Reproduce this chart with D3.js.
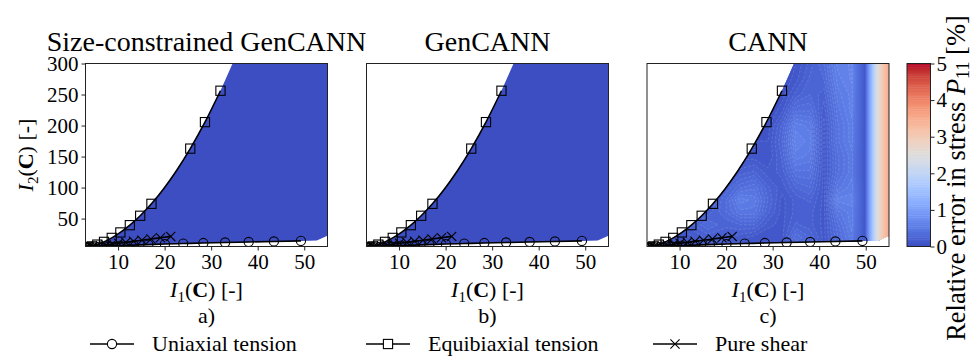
<!DOCTYPE html>
<html><head><meta charset="utf-8">
<script src="https://cdn.jsdelivr.net/npm/d3@7"></script>
<style>
body{margin:0;background:#fff}
svg{display:block}
text{font-family:"Liberation Serif","Times New Roman",serif;fill:#000}
</style>
</head><body>
<svg id="c" width="974" height="356"></svg>
<script>
// ---------- data ----------
const panelTitles = ["Size-constrained GenCANN", "GenCANN", "CANN"];
const panelLetters = ["a)", "b)", "c)"];
const xTicks = [10, 20, 30, 40, 50];
const yTicks = [50, 100, 150, 200, 250, 300];
const cbTicks = [0, 1, 2, 3, 4, 5];
const legendNames = ["Uniaxial tension", "Equibiaxial tension", "Pure shear"];

// uniaxial tension path (I1, I2)
const uniI1 = [3.00, 3.44, 4.53, 6.10, 8.10, 10.51, 13.32, 16.50, 20.07, 24.00, 28.32, 33.00, 38.06, 43.48, 49.29];
const uniI2 = [3.00, 3.35, 4.00, 4.76, 5.57, 6.39, 7.22, 8.06, 8.91, 9.76, 10.61, 11.46, 12.31, 13.17, 14.02];
// equibiaxial tension path (line)
const equiI1 = [3.00, 3.41, 4.32, 5.54, 6.98, 8.64, 10.49, 12.53, 14.75, 17.17, 19.76, 22.54, 25.51, 28.67, 32.00];
const equiI2 = [3.00, 3.53, 5.15, 8.03, 12.47, 18.88, 27.67, 39.38, 54.54, 73.80, 97.78, 127.2, 162.8, 205.5, 256.1];
// equibiaxial markers
const equiMarkI1 = [3.00, 3.41, 4.32, 5.54, 6.98, 8.64, 10.49, 12.53, 14.75, 17.17, 25.51, 28.67, 32.00];
const equiMarkI2 = [3.00, 3.53, 5.15, 8.03, 12.47, 18.88, 27.67, 39.38, 54.54, 73.80, 162.8, 205.5, 256.1];
// pure shear path (I1 = I2)
const psI1 = [3.00, 3.20, 3.69, 4.39, 5.25, 6.26, 7.41, 8.69, 10.11, 11.66, 13.33, 15.13, 17.06, 19.10, 21.30];
const psI2 = [3.00, 3.20, 3.69, 4.39, 5.25, 6.26, 7.41, 8.69, 10.11, 11.66, 13.33, 15.13, 17.06, 19.10, 21.30];

// admissible-domain extra boundary points
const domainTop = [34.6, 300];
const domainRight = [[55.5, 300], [55.5, 24], [52.7, 14.6]];

// error field, panels a and b (uniform, near zero)
const fieldAB = [0.02, 0.02];

// error field, panel c: grid of I1 (columns) x I2 (rows), values in %
const fieldI1 = [3, 8, 12, 16, 20, 23, 26, 29, 32, 35, 38, 41, 44, 47, 49.8, 51, 52.5, 54, 55.5];
const fieldI2 = [0, 20, 40, 60, 80, 100, 125, 150, 175, 200, 225, 250, 275, 300];
const fieldC = [
 [0.10,0.10,0.13,0.17,0.17,0.13,0.10,0.10,0.13,0.26,0.22,0.13,0.30,0.48,0.12,1.20,2.50,3.20,3.70],
 [0.10,0.10,0.13,0.22,0.22,0.17,0.13,0.10,0.13,0.39,0.30,0.13,0.35,0.53,0.12,1.20,2.50,3.20,3.70],
 [0.10,0.13,0.22,0.35,0.26,0.30,0.30,0.17,0.13,0.26,0.22,0.13,0.39,0.58,0.12,1.20,2.50,3.20,3.70],
 [0.10,0.13,0.17,0.22,0.35,0.48,0.48,0.26,0.13,0.22,0.22,0.13,0.48,0.58,0.12,1.20,2.50,3.20,3.70],
 [0.10,0.13,0.13,0.17,0.35,0.58,0.53,0.30,0.13,0.22,0.26,0.13,0.62,0.62,0.12,1.20,2.50,3.20,3.70],
 [0.10,0.13,0.13,0.17,0.26,0.39,0.44,0.26,0.17,0.30,0.35,0.13,0.48,0.58,0.12,1.20,2.50,3.20,3.70],
 [0.10,0.13,0.13,0.17,0.17,0.22,0.26,0.17,0.22,0.44,0.44,0.13,0.39,0.53,0.12,1.20,2.50,3.20,3.70],
 [0.10,0.13,0.13,0.13,0.13,0.13,0.13,0.10,0.26,0.58,0.53,0.13,0.39,0.53,0.12,1.20,2.50,3.20,3.70],
 [0.10,0.10,0.10,0.10,0.10,0.10,0.10,0.10,0.30,0.64,0.58,0.13,0.44,0.58,0.12,1.20,2.50,3.20,3.70],
 [0.07,0.07,0.07,0.07,0.07,0.07,0.07,0.07,0.26,0.58,0.53,0.13,0.44,0.58,0.12,1.20,2.50,3.20,3.70],
 [0.04,0.04,0.04,0.04,0.04,0.04,0.04,0.04,0.13,0.39,0.39,0.17,0.48,0.62,0.12,1.20,2.50,3.20,3.70],
 [0.04,0.04,0.04,0.04,0.04,0.04,0.04,0.04,0.07,0.22,0.30,0.22,0.53,0.62,0.12,1.20,2.50,3.20,3.70],
 [0.04,0.04,0.04,0.04,0.04,0.04,0.04,0.04,0.04,0.13,0.26,0.30,0.58,0.66,0.12,1.20,2.50,3.20,3.70],
 [0.04,0.04,0.04,0.04,0.04,0.04,0.04,0.04,0.04,0.10,0.22,0.35,0.62,0.66,0.12,1.20,2.50,3.20,3.70]
];

// coolwarm colormap anchors
const coolwarm = ["#3b4cc0","#445acc","#4d68d7","#5775e1","#6282ea","#6c8ef1","#779af7","#82a5fb",
 "#8db0fe","#98b9ff","#a3c2ff","#aec9fd","#b8d0f9","#c2d5f4","#ccd9ee","#d5dbe6","#dddddd",
 "#e5d8d1","#ecd3c5","#f1ccb9","#f5c4ad","#f7bba0","#f7b194","#f7a688","#f49a7b","#f18d6f",
 "#ec7f63","#e57058","#de604d","#d55042","#cb3e38","#c0282f","#b40426"];

// ---------- layout ----------
const svg = d3.select("#c");
const PL = [85.5, 366.5, 647], PW = 242, PT = 63.5, PH = 183;
const CB = {x: 907, w: 23.5};
const color = d3.scaleSequential(d3.piecewise(d3.interpolateRgb, coolwarm)).domain([0, 5]);
const levels = d3.range(0, 101).map(i => i * 0.05);

const defs = svg.append("defs");

const uni = uniI1.map((d, i) => [d, uniI2[i]]);
const equi = equiI1.map((d, i) => [d, equiI2[i]]);
const equiM = equiMarkI1.map((d, i) => [d, equiMarkI2[i]]);
const ps = psI1.map((d, i) => [d, psI2[i]]);
const domainPts = equi.concat([domainTop], domainRight, uni.slice().reverse());

PL.forEach((left, p) => {
  const x = d3.scaleLinear().domain([3, 55]).range([left, left + PW]);
  const y = d3.scaleLinear().domain([5, 300]).range([PT + PH, PT]);
  const g = svg.append("g");

  defs.append("clipPath").attr("id", "plot" + p)
    .append("rect").attr("x", left).attr("y", PT).attr("width", PW).attr("height", PH);
  defs.append("clipPath").attr("id", "dom" + p)
    .append("path").attr("d", d3.line().x(d => x(d[0])).y(d => y(d[1]))(domainPts) + "Z");

  const fg = g.append("g").attr("clip-path", `url(#plot${p})`)
    .append("g").attr("clip-path", `url(#dom${p})`);

  if (p < 2) {
    fg.append("rect").attr("x", left).attr("y", PT).attr("width", PW).attr("height", PH)
      .attr("fill", color(fieldAB[p]));
  } else {
    const nC = fieldI1.length, nR = fieldI2.length;
    const cS = d3.scaleLinear().domain(fieldI1.map((d, i) => i + 0.5)).range(fieldI1);
    const rS = d3.scaleLinear().domain(fieldI2.map((d, i) => i + 0.5)).range(fieldI2);
    const tr = d3.geoTransform({point(px, py) { this.stream.point(x(cS(px)), y(rS(py))); }});
    const path = d3.geoPath(tr);
    const conts = d3.contours().size([nC, nR]).thresholds(levels)(fieldC.flat());
    fg.selectAll("path.band").data(conts).join("path").attr("class", "band")
      .attr("d", path).attr("fill", d => color(d.value + 0.025)).attr("stroke", "none");
    defs.append("clipPath").attr("id", "iso" + p)
      .append("rect").attr("x", left).attr("y", PT).attr("width", x(47.3) - left).attr("height", PH);
    fg.append("g").attr("clip-path", `url(#iso${p})`)
      .selectAll("path.iso").data(conts.filter(d => d.value > 0 && d.value < 0.75)).join("path").attr("class", "iso")
      .attr("d", path).attr("fill", "none").attr("stroke", "#ffffff").attr("stroke-opacity", 0.2)
      .attr("stroke-width", 0.7).attr("stroke-dasharray", "3,1.5");
  }

  const line = d3.line().x(d => x(d[0])).y(d => y(d[1])).curve(d3.curveMonotoneX);
  const lg = g.append("g").attr("clip-path", `url(#plot${p})`);
  [uni, equi, ps].forEach(s => lg.append("path").attr("d", line(s)).attr("fill", "none")
    .attr("stroke", "#000").attr("stroke-width", 1.6));
  lg.selectAll("circle.m").data(uni).join("circle").attr("class", "m")
    .attr("cx", d => x(d[0])).attr("cy", d => y(d[1])).attr("r", 4.6)
    .attr("fill", "none").attr("stroke", "#000").attr("stroke-width", 1.1);
  lg.selectAll("rect.m").data(equiM).join("rect").attr("class", "m")
    .attr("x", d => x(d[0]) - 4.6).attr("y", d => y(d[1]) - 4.6).attr("width", 9.2).attr("height", 9.2)
    .attr("fill", "none").attr("stroke", "#000").attr("stroke-width", 1.1);
  lg.selectAll("path.m").data(ps).join("path").attr("class", "m")
    .attr("d", d => { const cx = x(d[0]), cy = y(d[1]), r = 4.6;
      return `M${cx-r},${cy-r}L${cx+r},${cy+r}M${cx-r},${cy+r}L${cx+r},${cy-r}`; })
    .attr("stroke", "#000").attr("stroke-width", 1.1);

  g.append("rect").attr("x", left).attr("y", PT).attr("width", PW).attr("height", PH)
    .attr("fill", "none").attr("stroke", "#222").attr("stroke-width", 1);

  const xa = g.append("g").attr("transform", `translate(0,${PT + PH})`)
    .call(d3.axisBottom(x).tickValues(xTicks).tickSize(4).tickSizeOuter(0).tickPadding(3));
  xa.select(".domain").remove();
  xa.selectAll("text").attr("font-size", 21).attr("dy", "0.72em");
  xa.selectAll("line").attr("stroke", "#222");

  if (p === 0) {
    const ya = g.append("g").attr("transform", `translate(${left},0)`)
      .call(d3.axisLeft(y).tickValues(yTicks).tickSize(4).tickSizeOuter(0).tickPadding(3));
    ya.select(".domain").remove();
    ya.selectAll("text").attr("font-size", 21);
    ya.selectAll("line").attr("stroke", "#222");
    const yl = g.append("text").attr("transform", `translate(33,${PT + PH / 2}) rotate(-90)`)
      .attr("text-anchor", "middle").attr("font-size", 22);
    invLabel(yl, "2");
  }

  const cx = left + PW / 2;
  g.append("text").attr("x", cx).attr("y", 51).attr("text-anchor", "middle")
    .attr("font-size", 28).text(panelTitles[p]);
  const xl = g.append("text").attr("x", cx).attr("y", 297).attr("text-anchor", "middle").attr("font-size", 22);
  invLabel(xl, "1");
  g.append("text").attr("x", cx).attr("y", 323).attr("text-anchor", "middle")
    .attr("font-size", 22).text(panelLetters[p]);
});

function invLabel(t, k) {
  t.append("tspan").attr("font-style", "italic").text("I");
  t.append("tspan").attr("font-size", "0.68em").attr("dy", 5).text(k);
  t.append("tspan").attr("dy", -5).text("(");
  t.append("tspan").attr("font-weight", "bold").text("C");
  t.append("tspan").text(") [-]");
}

// ---------- colorbar ----------
const cy = d3.scaleLinear().domain([0, 5]).range([PT + PH, PT]);
const cbg = svg.append("g");
cbg.selectAll("rect.cb").data(levels.slice(0, 100)).join("rect").attr("class", "cb")
  .attr("x", CB.x).attr("width", CB.w)
  .attr("y", d => cy(d + 0.05)).attr("height", d => cy(d) - cy(d + 0.05) + 0.4)
  .attr("fill", d => color(d + 0.025));
cbg.append("rect").attr("x", CB.x).attr("y", PT).attr("width", CB.w).attr("height", PH)
  .attr("fill", "none").attr("stroke", "#222").attr("stroke-width", 1);
const ca = cbg.append("g").attr("transform", `translate(${CB.x + CB.w},0)`)
  .call(d3.axisRight(cy).tickValues(cbTicks).tickFormat(d3.format("d")).tickSize(4).tickSizeOuter(0).tickPadding(2));
ca.select(".domain").remove();
ca.selectAll("text").attr("font-size", 21);
ca.selectAll("line").attr("stroke", "#222");
const cl = cbg.append("text").attr("transform", `translate(965,178) rotate(-90)`)
  .attr("text-anchor", "middle").attr("font-size", 26.5);
cl.append("tspan").text("Relative error in stress ");
cl.append("tspan").attr("font-style", "italic").text("P");
cl.append("tspan").attr("font-size", "0.68em").attr("dy", 4).text("11");
cl.append("tspan").attr("dy", -4).text(" [%]");

// ---------- legend ----------
const lgx = [[90, 134], [366, 410], [653, 697]];
const LY = 344;
const leg = svg.append("g");
legendNames.forEach((n, i) => {
  const [a, b] = lgx[i], m = (a + b) / 2;
  leg.append("line").attr("x1", a).attr("x2", b).attr("y1", LY).attr("y2", LY)
    .attr("stroke", "#000").attr("stroke-width", 1.6);
  if (i === 0) leg.append("circle").attr("cx", m).attr("cy", LY).attr("r", 4.6)
    .attr("fill", "#fff").attr("stroke", "#000").attr("stroke-width", 1.1);
  if (i === 1) leg.append("rect").attr("x", m - 4.6).attr("y", LY - 4.6).attr("width", 9.2).attr("height", 9.2)
    .attr("fill", "#fff").attr("stroke", "#000").attr("stroke-width", 1.1);
  if (i === 2) leg.append("path").attr("d", `M${m-4.6},${LY-4.6}L${m+4.6},${LY+4.6}M${m-4.6},${LY+4.6}L${m+4.6},${LY-4.6}`)
    .attr("stroke", "#000").attr("stroke-width", 1.1);
  leg.append("text").attr("x", b + 18).attr("y", LY + 7).attr("font-size", 22).text(n);
});
</script>
</body></html>
